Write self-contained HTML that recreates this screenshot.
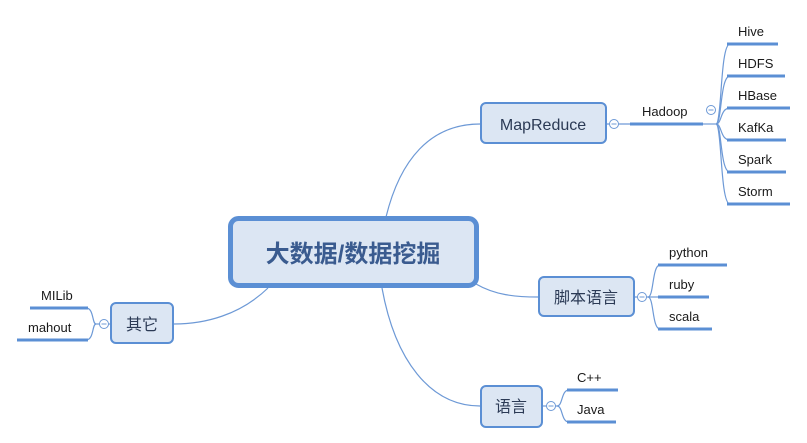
<!DOCTYPE html>
<html><head><meta charset="utf-8"><style>
html,body{margin:0;padding:0;background:#fff;}
svg{display:block;}
text{font-family:"Liberation Sans","Noto Sans CJK SC",sans-serif;fill:#1a1a1a;}
.m{font-size:16px;fill:#2b3a55;}
.l{font-size:13px;}
</style></head><body>
<svg width="807" height="443" viewBox="0 0 807 443" xmlns="http://www.w3.org/2000/svg">
<g fill="none" stroke="#6d99d6" stroke-width="1.2">
<path d="M386 217 C 400 160, 430 124, 480 124"/>
<path d="M476 284 C 495 295, 515 297, 538 297"/>
<path d="M382 288 C 395 360, 430 406, 480 406"/>
<path d="M268 288 C 240 315, 205 324, 174 324"/>
<path d="M607 124 L630 124"/>
<path d="M703 124 L716 124"/>
<path d="M716 124 C 722 124, 720 44, 730 44"/>
<path d="M716 124 C 722 124, 720 76, 730 76"/>
<path d="M716 124 C 722 124, 720 108, 730 108"/>
<path d="M716 124 C 722 124, 720 140, 730 140"/>
<path d="M716 124 C 722 124, 720 172, 730 172"/>
<path d="M716 124 C 722 124, 720 204, 730 204"/>
<path d="M635 297 L648 297"/>
<path d="M648 297 C 654 297, 652 265, 660 265"/>
<path d="M648 297 L660 297"/>
<path d="M648 297 C 654 297, 652 329, 660 329"/>
<path d="M543 406 L557 406"/>
<path d="M557 406 C 563 406, 561 390, 569 390"/>
<path d="M557 406 C 563 406, 561 422, 569 422"/>
<path d="M110 324 L96 324"/>
<path d="M96 324 C 92 324, 94 308, 86 308"/>
<path d="M96 324 C 92 324, 94 340, 86 340"/>
</g>
<g stroke="#5b8fd4" stroke-width="3" fill="none">
<path d="M630 124 H703"/>
<path d="M727 44 H778"/><path d="M727 76 H785"/><path d="M727 108 H790"/>
<path d="M727 140 H786"/><path d="M727 172 H786"/><path d="M727 204 H790"/>
<path d="M658 265 H727"/><path d="M658 297 H709"/><path d="M658 329 H712"/>
<path d="M567 390 H618"/><path d="M567 422 H616"/>
<path d="M30 308 H88"/><path d="M17 340 H88"/>
</g>
<g fill="#fff" stroke="#6d99d6" stroke-width="1">
<circle cx="614" cy="124" r="4.5"/><path d="M611.5 124 H616.5"/>
<circle cx="711" cy="110" r="4.5"/><path d="M708.5 110 H713.5"/>
<circle cx="642" cy="297" r="4.5"/><path d="M639.5 297 H644.5"/>
<circle cx="551" cy="406" r="4.5"/><path d="M548.5 406 H553.5"/>
<circle cx="104" cy="324" r="4.5"/><path d="M101.5 324 H106.5"/>
</g>
<g fill="#dce6f3" stroke="#5b8fd4">
<rect x="230.5" y="218.5" width="246" height="67" rx="8" stroke-width="5"/>
<rect x="481" y="103" width="125" height="40" rx="5" stroke-width="2"/>
<rect x="539" y="277" width="95" height="39" rx="5" stroke-width="2"/>
<rect x="481" y="386" width="61" height="41" rx="5" stroke-width="2"/>
<rect x="111" y="303" width="62" height="40" rx="5" stroke-width="2"/>
</g>
<text x="353" y="262" text-anchor="middle" style="font-size:24px;font-weight:bold;fill:#3a5b8f">大数据/数据挖掘</text>
<text class="m" x="543" y="130" text-anchor="middle">MapReduce</text>
<text class="m" x="586" y="303" text-anchor="middle">脚本语言</text>
<text class="m" x="511" y="412" text-anchor="middle">语言</text>
<text class="m" x="142" y="330" text-anchor="middle">其它</text>
<text class="l" x="642" y="116">Hadoop</text>
<text class="l" x="738" y="36">Hive</text>
<text class="l" x="738" y="68">HDFS</text>
<text class="l" x="738" y="100">HBase</text>
<text class="l" x="738" y="132">KafKa</text>
<text class="l" x="738" y="164">Spark</text>
<text class="l" x="738" y="196">Storm</text>
<text class="l" x="669" y="257">python</text>
<text class="l" x="669" y="289">ruby</text>
<text class="l" x="669" y="321">scala</text>
<text class="l" x="577" y="382">C++</text>
<text class="l" x="577" y="414">Java</text>
<text class="l" x="41" y="300">MILib</text>
<text class="l" x="28" y="332">mahout</text>
</svg>
</body></html>
